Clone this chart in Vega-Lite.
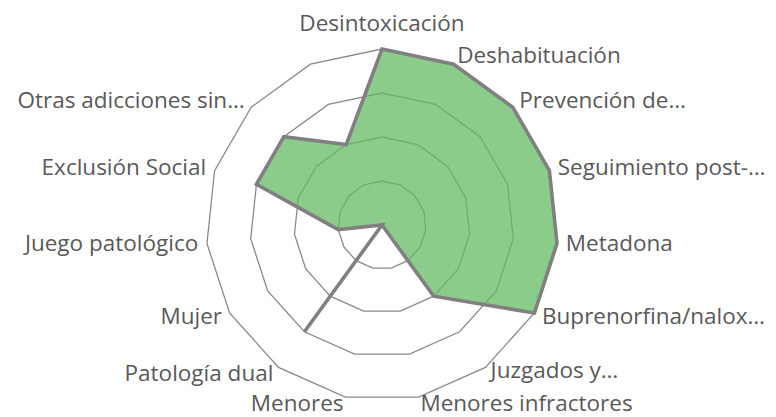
{
  "$schema": "https://vega.github.io/schema/vega-lite/v6.json",
  "width": 776,
  "height": 417,
  "autosize": {"type": "fit", "contains": "padding"},
  "padding": 0,
  "background": "white",
  "config": {"view": {"stroke": null}},
  "data": {
    "values": [
      {"i": 0, "cat": "Desintoxicación", "v": 4},
      {"i": 1, "cat": "Deshabituación", "v": 4},
      {"i": 2, "cat": "Prevención de…", "v": 4},
      {"i": 3, "cat": "Seguimiento post-…", "v": 4},
      {"i": 4, "cat": "Metadona", "v": 4},
      {"i": 5, "cat": "Buprenorfina/nalox…", "v": 4},
      {"i": 6, "cat": "Juzgados y…", "v": 2},
      {"i": 7, "cat": "Menores infractores", "v": 0},
      {"i": 8, "cat": "Menores", "v": 0},
      {"i": 9, "cat": "Patología dual", "v": 3},
      {"i": 10, "cat": "Mujer", "v": 0},
      {"i": 11, "cat": "Juego patológico", "v": 1},
      {"i": 12, "cat": "Exclusión Social", "v": 3},
      {"i": 13, "cat": "Otras adicciones sin…", "v": 3},
      {"i": 14, "cat": "", "v": 2}
    ]
  },
  "transform": [
    {"calculate": "datum.i * 2 * PI / 15", "as": "a"},
    {"calculate": "4.2 * sin(datum.a)", "as": "lx"},
    {"calculate": "4.2 * cos(datum.a)", "as": "ly"}
  ],
  "layer": [
    {
      "transform": [
        {"calculate": "[1, 2, 3, 4]", "as": "lv"},
        {"flatten": ["lv"]},
        {"calculate": "datum.lv * sin(datum.a)", "as": "gx"},
        {"calculate": "datum.lv * cos(datum.a)", "as": "gy"}
      ],
      "mark": {"type": "line", "interpolate": "linear-closed", "stroke": "#8a8a8a", "strokeWidth": 1.3},
      "encoding": {
        "x": {"field": "gx", "type": "quantitative", "scale": {"domain": [-8.682, 8.955], "nice": false, "zero": false}, "axis": null},
        "y": {"field": "gy", "type": "quantitative", "scale": {"domain": [-4.364, 5.114], "nice": false, "zero": false}, "axis": null},
        "detail": {"field": "lv", "type": "nominal"},
        "order": {"field": "i", "type": "quantitative"}
      }
    },
    {
      "transform": [
        {"calculate": "datum.v * sin(datum.a)", "as": "px"},
        {"calculate": "datum.v * cos(datum.a)", "as": "py"}
      ],
      "mark": {"type": "line", "interpolate": "linear-closed", "fill": "#64bb64", "fillOpacity": 0.75, "stroke": "#808080", "strokeWidth": 3.6},
      "encoding": {
        "x": {"field": "px", "type": "quantitative", "scale": {"domain": [-8.682, 8.955], "nice": false, "zero": false}, "axis": null},
        "y": {"field": "py", "type": "quantitative", "scale": {"domain": [-4.364, 5.114], "nice": false, "zero": false}, "axis": null},
        "order": {"field": "i", "type": "quantitative"}
      }
    },
    {
      "transform": [{"filter": "datum.i == 0"}],
      "mark": {"type": "text", "align": "center", "baseline": "middle", "dy": -16, "font": "Open Sans", "fontSize": 22.5, "color": "#595959"},
      "encoding": {
        "x": {"field": "lx", "type": "quantitative", "scale": {"domain": [-8.682, 8.955], "nice": false, "zero": false}, "axis": null},
        "y": {"field": "ly", "type": "quantitative", "scale": {"domain": [-4.364, 5.114], "nice": false, "zero": false}, "axis": null},
        "text": {"field": "cat"}
      }
    },
    {
      "transform": [{"filter": "datum.i >= 1 && datum.i <= 5"}],
      "mark": {"type": "text", "align": "left", "baseline": "middle", "font": "Open Sans", "fontSize": 22.5, "color": "#595959"},
      "encoding": {
        "x": {"field": "lx", "type": "quantitative", "scale": {"domain": [-8.682, 8.955], "nice": false, "zero": false}, "axis": null},
        "y": {"field": "ly", "type": "quantitative", "scale": {"domain": [-4.364, 5.114], "nice": false, "zero": false}, "axis": null},
        "text": {"field": "cat"}
      }
    },
    {
      "transform": [{"filter": "datum.i == 6"}],
      "mark": {"type": "text", "align": "left", "baseline": "middle", "dy": -3, "font": "Open Sans", "fontSize": 22.5, "color": "#595959"},
      "encoding": {
        "x": {"field": "lx", "type": "quantitative", "scale": {"domain": [-8.682, 8.955], "nice": false, "zero": false}, "axis": null},
        "y": {"field": "ly", "type": "quantitative", "scale": {"domain": [-4.364, 5.114], "nice": false, "zero": false}, "axis": null},
        "text": {"field": "cat"}
      }
    },
    {
      "transform": [{"filter": "datum.i == 7"}],
      "mark": {"type": "text", "align": "left", "baseline": "middle", "dy": -2, "font": "Open Sans", "fontSize": 22.5, "color": "#595959"},
      "encoding": {
        "x": {"field": "lx", "type": "quantitative", "scale": {"domain": [-8.682, 8.955], "nice": false, "zero": false}, "axis": null},
        "y": {"field": "ly", "type": "quantitative", "scale": {"domain": [-4.364, 5.114], "nice": false, "zero": false}, "axis": null},
        "text": {"field": "cat"}
      }
    },
    {
      "transform": [{"filter": "datum.i == 8"}],
      "mark": {"type": "text", "align": "right", "baseline": "middle", "dy": -2, "font": "Open Sans", "fontSize": 22.5, "color": "#595959"},
      "encoding": {
        "x": {"field": "lx", "type": "quantitative", "scale": {"domain": [-8.682, 8.955], "nice": false, "zero": false}, "axis": null},
        "y": {"field": "ly", "type": "quantitative", "scale": {"domain": [-4.364, 5.114], "nice": false, "zero": false}, "axis": null},
        "text": {"field": "cat"}
      }
    },
    {
      "transform": [{"filter": "datum.i >= 9"}],
      "mark": {"type": "text", "align": "right", "baseline": "middle", "font": "Open Sans", "fontSize": 22.5, "color": "#595959"},
      "encoding": {
        "x": {"field": "lx", "type": "quantitative", "scale": {"domain": [-8.682, 8.955], "nice": false, "zero": false}, "axis": null},
        "y": {"field": "ly", "type": "quantitative", "scale": {"domain": [-4.364, 5.114], "nice": false, "zero": false}, "axis": null},
        "text": {"field": "cat"}
      }
    }
  ]
}
